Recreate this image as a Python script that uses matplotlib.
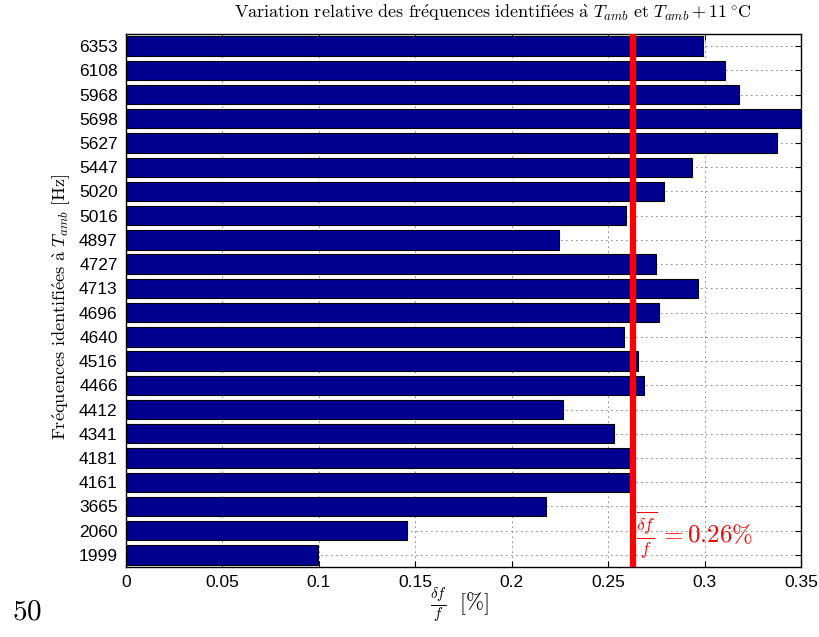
import matplotlib
matplotlib.use("Agg")
import matplotlib.pyplot as plt
import numpy as np

# Data (bottom to top)
freqs = ["1999", "2060", "3665", "4161", "4181", "4341", "4412", "4466", "4516",
         "4640", "4696", "4713", "4727", "4897", "5016", "5020", "5447", "5627",
         "5698", "5968", "6108", "6353"]
rel_var = [0.0997, 0.1455, 0.2180, 0.2615, 0.2615, 0.2532, 0.2265, 0.2684, 0.2655,
           0.2584, 0.2765, 0.2968, 0.2748, 0.2243, 0.2591, 0.2788, 0.2935, 0.3375,
           0.3560, 0.3181, 0.3106, 0.2990]
mean_val = 0.2627
xticks = [0, 0.05, 0.1, 0.15, 0.2, 0.25, 0.3, 0.35]
xticklabels = ["0", "0.05", "0.1", "0.15", "0.2", "0.25", "0.3", "0.35"]

plt.rcParams['mathtext.fontset'] = 'cm'

fig = plt.figure(figsize=(8.19, 6.37), dpi=100)
ax = fig.add_axes([126/819, 1 - 567/637, (801 - 126)/819, (567 - 34)/637])

pos = np.arange(1, len(freqs) + 1)
ax.barh(pos, rel_var, height=0.8, color='#000090', edgecolor='black',
        linewidth=0.8, zorder=2)
ax.axvline(mean_val, color='red', linewidth=4.5, zorder=4)

ax.set_xlim(0, 0.35)
ax.set_ylim(0.5, len(freqs) + 0.5)
ax.set_xticks(xticks)
ax.set_xticklabels(xticklabels, family='Liberation Sans', fontsize=12.5)
ax.set_yticks(pos)
ax.set_yticklabels(freqs, family='Liberation Sans', fontsize=12.5)
ax.tick_params(direction='in', top=True, right=True, length=4, width=0.8, pad=6)
ax.grid(True, linestyle=(0, (1, 5)), color='black', linewidth=0.6, zorder=0)
ax.set_axisbelow(True)
for s in ax.spines.values():
    s.set_linewidth(1.0)

ax.text(mean_val + 0.0015, 1.8, r"$\overline{\frac{\delta f}{f}}\, = 0.26\%$",
        color='red', fontsize=18, va='center', ha='left', zorder=5)

fig.text(493/819, 1 - 13/637,
         r"$\mathrm{Variation\ relative\ des\ fr\acute{e}quences\ identifi\acute{e}es\ \grave{a}\ }T_{amb}\mathrm{\ et\ }T_{amb}+11\,^{\circ}\mathrm{C}$",
         ha='center', va='center', fontsize=13.0)
fig.text(62/819, 1 - 307/637,
         r"$\mathrm{Fr\acute{e}quences\ identifi\acute{e}es\ \grave{a}\ }T_{amb}\mathrm{\ [Hz]}$",
         ha='center', va='center', rotation=90, fontsize=13.2)
fig.text(459/819, 1 - 605/637, r"$\frac{\delta f}{f}\ \ \mathrm{[\%]}$",
         ha='center', va='center', fontsize=15.5)
fig.text(27/819, 1 - 612/637, r"$\mathrm{50}$", ha='center', va='center', fontsize=21)

fig.savefig("out.png", dpi=100)
